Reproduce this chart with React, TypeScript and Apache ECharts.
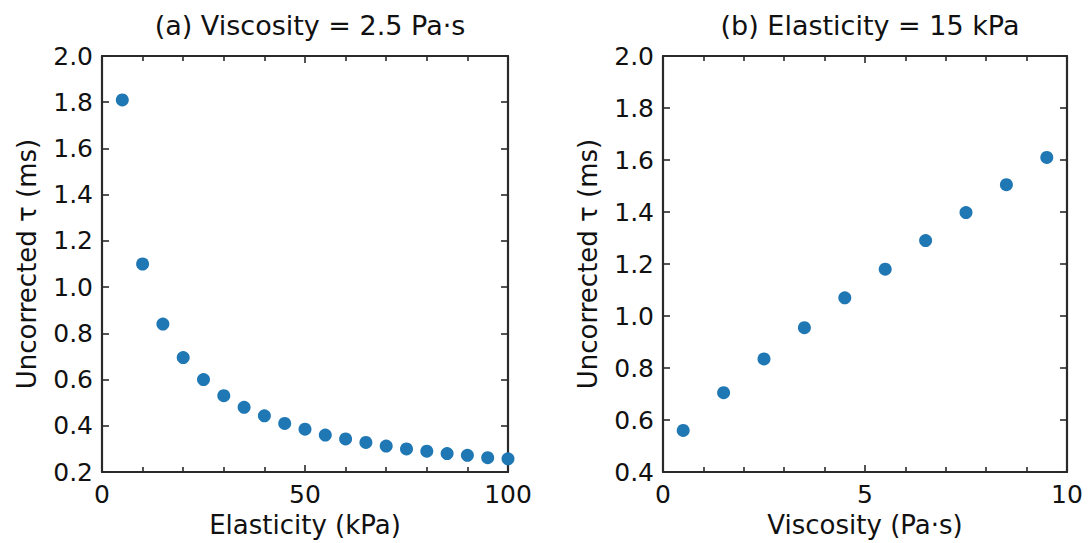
import React, { useEffect, useRef } from "react";
import * as echarts from "echarts";

const elasticityA = [5, 10, 15, 20, 25, 30, 35, 40, 45, 50, 55, 60, 65, 70, 75, 80, 85, 90, 95, 100];
const tauA = [1.81, 1.1, 0.84, 0.695, 0.6, 0.53, 0.48, 0.443, 0.41, 0.385, 0.36, 0.343, 0.328, 0.312, 0.3, 0.29, 0.28, 0.272, 0.262, 0.257];
const viscosityB = [0.5, 1.5, 2.5, 3.5, 4.5, 5.5, 6.5, 7.5, 8.5, 9.5];
const tauB = [0.56, 0.705, 0.835, 0.955, 1.07, 1.18, 1.29, 1.398, 1.505, 1.61];

const titles = ["(a) Viscosity = 2.5 Pa·s", "(b) Elasticity = 15 kPa"];
const xNames = ["Elasticity (kPa)", "Viscosity (Pa·s)"];
const yName = "Uncorrected τ (ms)";

const FONT = "DejaVu Sans";
const FS = 25;
const INK = "#2a2a2a";
const TXT = "#111";

export default function App() {
  const ref = useRef<HTMLDivElement>(null);
  useEffect(() => {
    if (!ref.current) return;
    const chart = echarts.init(ref.current, undefined, { renderer: "svg" });
    const grids = [
      { left: 102, right: 582, top: 56, bottom: 71 },
      { left: 663, right: 23, top: 56, bottom: 71 },
    ];
    const xCfg = [
      { min: 0, max: 100, interval: 50 },
      { min: 0, max: 10, interval: 5 },
    ];
    const yCfg = [
      { min: 0.2, max: 2.0, interval: 0.2 },
      { min: 0.4, max: 2.0, interval: 0.2 },
    ];
    const axisLine = { show: true, onZero: false, lineStyle: { color: INK, width: 2.2 } };
    const tick = { show: true, inside: true, length: 7, lineStyle: { color: INK, width: 1.6 } };
    const minor = { show: true, splitNumber: 5, length: 5, lineStyle: { color: INK, width: 1.6 } };
    const label = { color: TXT, fontSize: FS, fontFamily: FONT };
    const nameStyle = { color: TXT, fontSize: 26, fontFamily: FONT };
    const xAxis: any[] = [];
    const yAxis: any[] = [];
    [0, 1].forEach((i) => {
      xAxis.push({
        type: "value",
        gridIndex: i,
        position: "bottom",
        ...xCfg[i],
        axisLine,
        axisTick: tick,
        minorTick: minor,
        splitLine: { show: false },
        axisLabel: { ...label, margin: 10 },
        name: xNames[i],
        nameLocation: "middle",
        nameGap: 37,
        nameTextStyle: nameStyle,
      });
      xAxis.push({
        type: "value",
        gridIndex: i,
        position: "top",
        ...xCfg[i],
        axisLine,
        axisTick: tick,
        minorTick: minor,
        splitLine: { show: false },
        axisLabel: { show: false },
      });
      yAxis.push({
        type: "value",
        gridIndex: i,
        position: "left",
        ...yCfg[i],
        axisLine,
        axisTick: tick,
        splitLine: { show: false },
        axisLabel: { ...label, margin: 9, formatter: (v: number) => v.toFixed(1) },
        name: yName,
        nameLocation: "middle",
        nameGap: 62,
        nameTextStyle: nameStyle,
      });
      yAxis.push({
        type: "value",
        gridIndex: i,
        position: "right",
        ...yCfg[i],
        axisLine,
        axisTick: tick,
        splitLine: { show: false },
        axisLabel: { show: false },
      });
    });
    const titleStyle = { fontFamily: FONT, fontSize: 27, fontWeight: "normal" as const, color: TXT };
    chart.setOption({
      animation: false,
      backgroundColor: "#fff",
      title: [
        { text: titles[0], left: 305, top: 7, textAlign: "center", textStyle: titleStyle },
        { text: titles[1], left: 865, top: 7, textAlign: "center", textStyle: titleStyle },
      ],
      grid: grids,
      xAxis,
      yAxis,
      series: [
        {
          type: "scatter",
          xAxisIndex: 0,
          yAxisIndex: 0,
          symbolSize: 13,
          itemStyle: { color: "#1f77b4", opacity: 1 },
          data: elasticityA.map((x, i) => [x, tauA[i]]),
        },
        {
          type: "scatter",
          xAxisIndex: 2,
          yAxisIndex: 2,
          symbolSize: 13,
          itemStyle: { color: "#1f77b4", opacity: 1 },
          data: viscosityB.map((x, i) => [x, tauB[i]]),
        },
      ],
    });
    return () => chart.dispose();
  }, []);
  return <div ref={ref} style={{ position: "fixed", left: 0, top: 0, width: 1090, height: 543, background: "#fff" }} />;
}
